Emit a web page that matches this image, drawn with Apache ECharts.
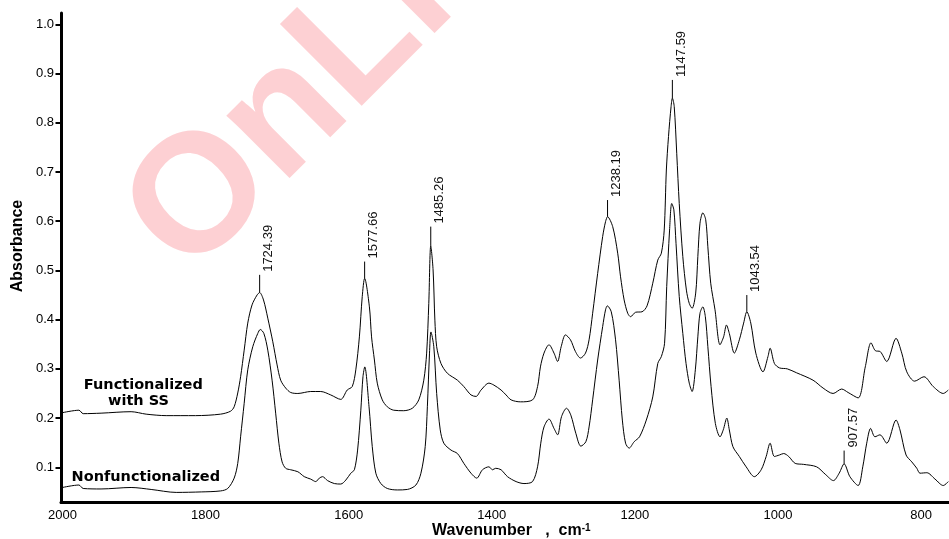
<!DOCTYPE html>
<html>
<head>
<meta charset="utf-8">
<script src="https://cdn.jsdelivr.net/npm/echarts@6/dist/echarts.min.js"></script>
<style>
html,body{margin:0;padding:0;background:#fff;}
#chart{width:949px;height:539px;}
</style>
</head>
<body>
<div id="chart"></div>
<script>
// ---- Data ----
const ssWavenumber = [2000,1977,1971,1946,1904,1883,1855,1814,1779,1765,
 1760,1755,1751,1746,1741,1735,1728,1724.39,1719,1713,
 1706,1700,1695,1688,1681,1671,1653,1639,1625,1611,
 1602,1595,1590,1585,1581,1577.66,1571,1568,1564,1560,
 1553,1546,1537,1523,1511,1502,1495,1491,1488,1485.26,
 1482,1479.5,1477,1471,1462,1448,1439,1429,1422,1415,
 1404,1397,1387,1380,1373,1360,1343,1336,1332,1327,
 1320,1313,1308,1303,1297,1290,1283,1276,1269,1264,
 1259,1252,1245,1241,1238.19,1231,1224,1220,1215,1210,
 1206,1199,1190,1183,1175,1168,1163,1159,1156,1153,
 1149.4,1147.59,1145,1141.5,1138,1133,1128,1124,1120,1115,
 1112,1109,1105,1101,1098,1094,1088,1081,1076,1072,
 1068,1061,1054,1048,1043.54,1038,1031,1021,1014,1011,
 1005,998,987,974,951,937,923,911,902,888,
 878,870,864,857,848,835,827,820,809,796,
 783,769,762];
const ssAbsorbance = [0.211,0.216,0.209,0.210,0.213,0.208,0.205,0.205,0.208,0.214,
 0.223,0.251,0.284,0.338,0.393,0.430,0.450,0.455,0.440,0.403,
 0.355,0.308,0.277,0.261,0.252,0.250,0.254,0.254,0.247,0.238,
 0.257,0.264,0.298,0.365,0.447,0.484,0.426,0.365,0.318,0.271,
 0.237,0.223,0.216,0.215,0.220,0.237,0.277,0.332,0.433,0.550,
 0.501,0.399,0.345,0.311,0.291,0.277,0.264,0.247,0.244,0.257,
 0.271,0.267,0.257,0.247,0.237,0.233,0.237,0.264,0.304,0.332,
 0.349,0.332,0.315,0.345,0.369,0.359,0.335,0.322,0.332,0.359,
 0.413,0.494,0.569,0.599,0.609,0.589,0.535,0.487,0.440,0.413,
 0.406,0.415,0.416,0.428,0.474,0.521,0.535,0.582,0.704,0.772,
 0.833,0.850,0.833,0.738,0.636,0.528,0.460,0.433,0.423,0.454,
 0.528,0.596,0.617,0.603,0.548,0.474,0.420,0.349,0.365,0.389,
 0.372,0.332,0.359,0.393,0.416,0.393,0.332,0.294,0.325,0.342,
 0.311,0.302,0.300,0.292,0.277,0.261,0.250,0.259,0.252,0.241,
 0.304,0.353,0.337,0.335,0.315,0.362,0.332,0.294,0.275,0.284,
 0.264,0.250,0.257];

const nonWavenumber = [2000,1977,1971,1946,1904,1876,1841,1806,1779,1769,
 1760,1755,1751,1746,1741,1734,1727,1723.5,1718.5,1713,
 1707,1702,1697.5,1693,1688,1681,1671,1662,1653,1646,
 1641,1636.5,1629.5,1620,1611,1604,1597,1592,1587.5,1583,
 1580,1577.5,1571.5,1567,1562,1555,1546,1532,1518,1506,
 1499,1493,1490,1487,1485,1481,1477,1472,1467,1457,
 1448,1439,1429,1421,1413,1404,1399,1394.5,1387,1378,
 1366,1355,1343,1336,1331.5,1327,1320,1313,1308,1302.5,
 1295.5,1289.5,1282.5,1275.5,1268.5,1264,1259,1252,1245,1241,
 1238.5,1233,1227,1222,1217.5,1213,1208,1201,1193.5,1184,
 1175,1168,1163,1158.5,1155.5,1151.5,1148.5,1145.5,1142.5,1138,
 1133,1128.5,1124,1120,1115.5,1112,1109,1105,1101.5,1098,
 1093.5,1087.5,1081,1076.5,1071.5,1068,1063,1054,1044.5,1033,
 1023.5,1016.5,1011,1005,998,992,985,976,964.5,946,
 934,922.5,914.5,907.57,899.5,888,881.5,876,870.5,864.5,
 857.5,848,835,829.5,821,813,806,801.5,792,780.5,
 769,762];
const nonAbsorbance = [0.059,0.064,0.057,0.056,0.059,0.055,0.049,0.050,0.052,0.057,
 0.078,0.108,0.162,0.230,0.298,0.345,0.372,0.380,0.372,0.338,
 0.277,0.210,0.149,0.111,0.098,0.095,0.091,0.081,0.076,0.071,
 0.078,0.081,0.073,0.067,0.066,0.074,0.088,0.095,0.135,0.216,
 0.284,0.304,0.223,0.142,0.088,0.067,0.057,0.054,0.055,0.064,
 0.088,0.142,0.223,0.332,0.375,0.345,0.250,0.176,0.149,0.135,
 0.128,0.108,0.088,0.078,0.095,0.101,0.095,0.098,0.095,0.081,
 0.071,0.067,0.071,0.101,0.149,0.182,0.198,0.179,0.166,0.203,
 0.220,0.206,0.169,0.143,0.152,0.182,0.237,0.318,0.386,0.420,
 0.428,0.416,0.359,0.277,0.196,0.149,0.139,0.152,0.162,0.196,
 0.243,0.311,0.325,0.352,0.467,0.582,0.636,0.623,0.555,0.447,
 0.372,0.311,0.271,0.254,0.298,0.365,0.413,0.426,0.406,0.345,
 0.264,0.189,0.162,0.176,0.200,0.176,0.142,0.122,0.101,0.081,
 0.095,0.122,0.149,0.122,0.125,0.128,0.122,0.108,0.106,0.101,
 0.086,0.073,0.088,0.107,0.081,0.063,0.101,0.149,0.179,0.162,
 0.166,0.149,0.196,0.176,0.125,0.111,0.098,0.088,0.089,0.076,
 0.063,0.071];

const peakWavenumber = [1724.39, 1577.66, 1485.26, 1238.19, 1147.59, 1043.54, 907.57];
const peakAbsorbance = [0.455, 0.484, 0.550, 0.609, 0.850, 0.416, 0.107];
const peakTickTop    = [0.491, 0.518, 0.589, 0.643, 0.887, 0.450, 0.134];
const peakLabels = peakWavenumber.map(w => w.toFixed(2));

const xTickValues = [2000, 1800, 1600, 1400, 1200, 1000, 800];
const yTickValues = [0.1, 0.2, 0.3, 0.4, 0.5, 0.6, 0.7, 0.8, 0.9, 1.0];

const seriesNames = ['Functionalized with SS', 'Nonfunctionalized'];

// ---- Chart ----
const chart = echarts.init(document.getElementById('chart'), null, {renderer: 'canvas'});
const zip = (xs, ys) => xs.map((x, i) => [x, ys[i]]);
const labelFont = '"Liberation Sans", Arial, sans-serif';

const option = {
  backgroundColor: '#ffffff',
  animation: false,
  grid: {left: 61, right: 0, top: 13, bottom: 36.5, containLabel: false, outerBoundsMode: 'none'},
  xAxis: {
    type: 'value', inverse: true, min: 761, max: 2002,
    axisLine: {show: true, onZero: false, lineStyle: {color: '#000', width: 3}},
    axisTick: {show: false},
    splitLine: {show: false},
    axisLabel: {customValues: xTickValues, color: '#000', fontSize: 13, fontFamily: labelFont, margin: 6,
      formatter: v => String(Math.round(v))}
  },
  yAxis: {
    type: 'value', min: 0.0285, max: 1.023,
    axisLine: {show: true, onZero: false, lineStyle: {color: '#000', width: 3}},
    axisTick: {show: true, customValues: yTickValues, length: 5.5, lineStyle: {color: '#000', width: 2}},
    splitLine: {show: false},
    axisLabel: {customValues: yTickValues, color: '#000', fontSize: 13, fontFamily: labelFont, margin: 7,
      formatter: v => v.toFixed(1)}
  },
  graphic: [
    {type: 'text', x: 156, y: 246, rotation: Math.PI / 4, z: -10, silent: true,
     style: {text: 'OnLine', fontSize: 168, fontWeight: 'bold', fontFamily: labelFont,
             fill: '#fdd0d3', align: 'left', verticalAlign: 'middle'}},
    {type: 'text', x: 17.5, y: 246, rotation: Math.PI / 2,
     style: {text: 'Absorbance', fontSize: 16, fontWeight: 'bold', fontFamily: labelFont,
             fill: '#000', align: 'center', verticalAlign: 'middle'}},
    {type: 'text', x: 432, y: 531,
     style: {text: 'Wavenumber   ,  cm{sup|-1}', fontSize: 16, fontWeight: 'bold', fontFamily: labelFont,
             fill: '#000', align: 'left', verticalAlign: 'middle',
             rich: {sup: {fontSize: 10, fontWeight: 'bold', fontFamily: labelFont, fill: '#000', verticalAlign: 'top'}}}},
    {type: 'text', x: 143.3, y: 385,
     style: {text: 'Functionalized', fontSize: 14.5, fontWeight: 'bold', fontFamily: '"DejaVu Sans", sans-serif',
             fill: '#000', align: 'center', verticalAlign: 'middle'}},
    {type: 'text', x: 138.5, y: 401.7,
     style: {text: 'with SS', fontSize: 14.5, fontWeight: 'bold', fontFamily: '"DejaVu Sans", sans-serif',
             fill: '#000', align: 'center', verticalAlign: 'middle'}},
    {type: 'text', x: 145.8, y: 477.3,
     style: {text: 'Nonfunctionalized', fontSize: 14.5, fontWeight: 'bold', fontFamily: '"DejaVu Sans", sans-serif',
             fill: '#000', align: 'center', verticalAlign: 'middle'}}
  ],
  series: [
    {name: seriesNames[0], type: 'line', data: zip(ssWavenumber, ssAbsorbance),
     showSymbol: false, smooth: 0.3, lineStyle: {color: '#000', width: 1}, z: 3},
    {name: seriesNames[1], type: 'line', data: zip(nonWavenumber, nonAbsorbance),
     showSymbol: false, smooth: 0.3, lineStyle: {color: '#000', width: 1}, z: 3},
    {name: 'peaks', type: 'custom', z: 4,
     data: peakWavenumber.map((w, i) => [w, peakAbsorbance[i], peakTickTop[i]]),
     encode: {x: 0, y: [1, 2]},
     renderItem: function (params, api) {
       const i = params.dataIndex;
       const p0 = api.coord([api.value(0), api.value(1)]);
       const p1 = api.coord([api.value(0), api.value(2)]);
       return {
         type: 'group',
         children: [
           {type: 'line', shape: {x1: p0[0], y1: p0[1], x2: p1[0], y2: p1[1]},
            style: {stroke: '#000', lineWidth: 1}},
           {type: 'text', x: p1[0] + 9, y: p1[1] - 3, rotation: Math.PI / 2,
            style: {text: peakLabels[i], fontSize: 13, fontFamily: labelFont, fill: '#111',
                    align: 'left', verticalAlign: 'middle'}}
         ]
       };
     }}
  ]
};
chart.setOption(option);
</script>
</body>
</html>
